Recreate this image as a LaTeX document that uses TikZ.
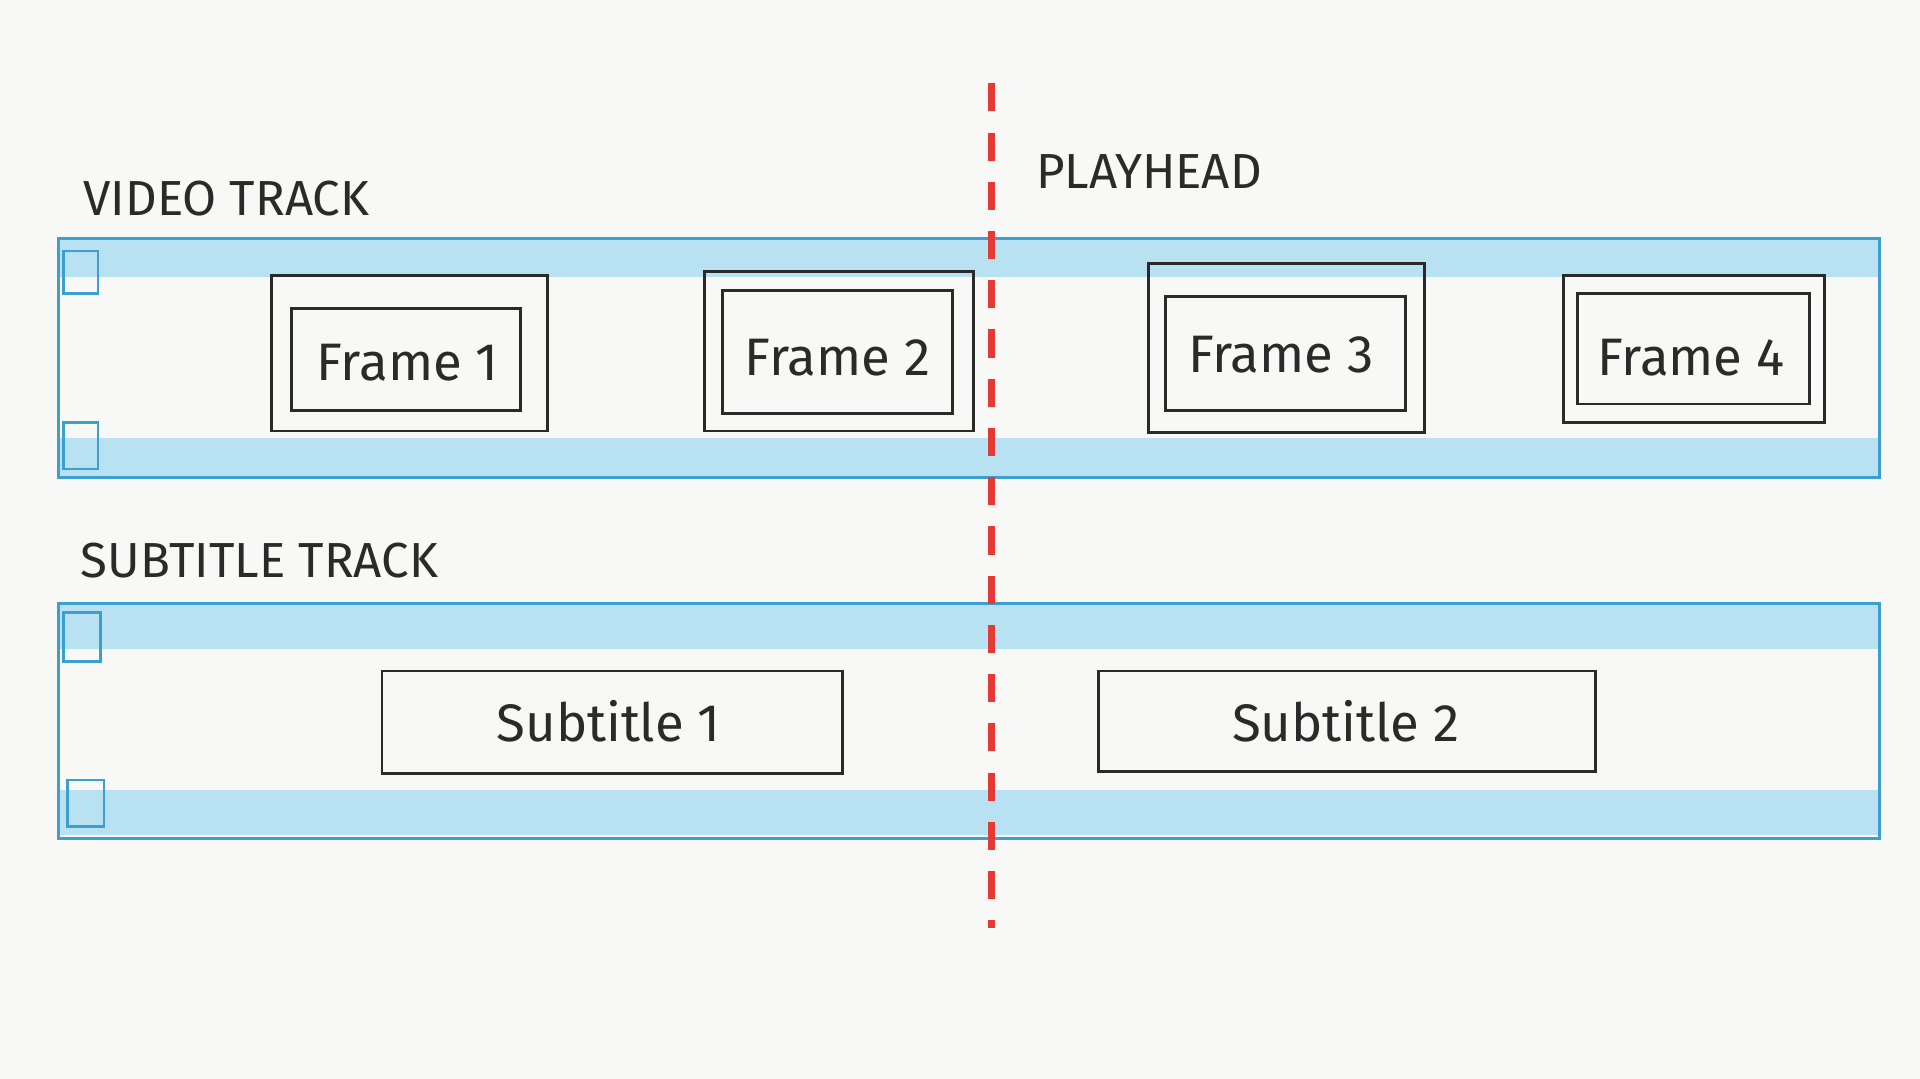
\documentclass[tikz,border=0pt]{standalone}
\usepackage{fontspec}
\setmainfont{Fira Sans}
\usepackage{tikz}
\usepackage{xcolor}
\definecolor{paper}{HTML}{F8F8F6}
\definecolor{tape}{HTML}{A8DDF0}
\definecolor{tapeline}{HTML}{3C9FD0}
\definecolor{pencil}{HTML}{2A2A2A}
\definecolor{cue}{HTML}{E53935}
\tikzset{
  band/.style={fill=tape,draw=none,opacity=0.8},
  track/.style={draw=tapeline,thick},
  hole/.style={draw=tapeline,thick},
  box/.style={draw=pencil,thick},
  label/.style={font=\fontsize{14}{14}\selectfont,text=pencil},
  boxtext/.style={font=\fontsize{15}{15}\selectfont,text=pencil}
}
\begin{document}
\begin{tikzpicture}[x=0.012245cm,y=-0.012245cm]
        \fill[paper] (0,0) rectangle (1568,881);

        % Video track
        \fill[band] (48,195) rectangle (1535,226);
        \fill[band] (48,358) rectangle (1535,390);
        \draw[track] (48,195) rectangle (1535,390);
        \draw[hole] (52,205) rectangle (80,240);
        \draw[hole] (52,345) rectangle (80,383);
        \node[label,anchor=west] (vlabel) at (58,162) {VIDEO TRACK};

        % Frames
        \draw[box] (222,225) rectangle (447,352);
        \draw[box] (238,252) rectangle (425,335);
        \node[boxtext] (f1) at (333,296) {Frame 1};
        \draw[box] (575,222) rectangle (795,352);
        \draw[box] (590,237) rectangle (778,338);
        \node[boxtext] (f2) at (684,292) {Frame 2};
        \draw[box] (938,215) rectangle (1163,353);
        \draw[box] (952,242) rectangle (1148,335);
        \node[boxtext] (f3) at (1046,290) {Frame 3};
        \draw[box] (1277,225) rectangle (1490,345);
        \draw[box] (1288,240) rectangle (1478,330);
        \node[boxtext] (f4) at (1381,292) {Frame 4};

        % Subtitle track
        \fill[band] (48,493) rectangle (1535,530);
        \fill[band] (48,645) rectangle (1535,682);
        \draw[track] (48,493) rectangle (1535,685);
        \draw[hole] (52,500) rectangle (82,540);
        \draw[hole] (55,637) rectangle (85,675);
        \node[label,anchor=west] (slabel) at (56,458) {SUBTITLE TRACK};

        \draw[box] (312,548) rectangle (688,632);
        \node[boxtext] (s1) at (497,589) {Subtitle 1};
        \draw[box] (897,548) rectangle (1303,630);
        \node[boxtext] (s2) at (1099,589) {Subtitle 2};

        % Playhead
        \coordinate (ptop) at (810,68);
        \coordinate (pbot) at (810,758);
        \draw[cue,line width=2pt,dash pattern=on 8pt off 6pt] (ptop) -- (pbot);
        \node[label,anchor=west] (plabel) at (836,140) {PLAYHEAD};
    \end{tikzpicture}
\end{document}
